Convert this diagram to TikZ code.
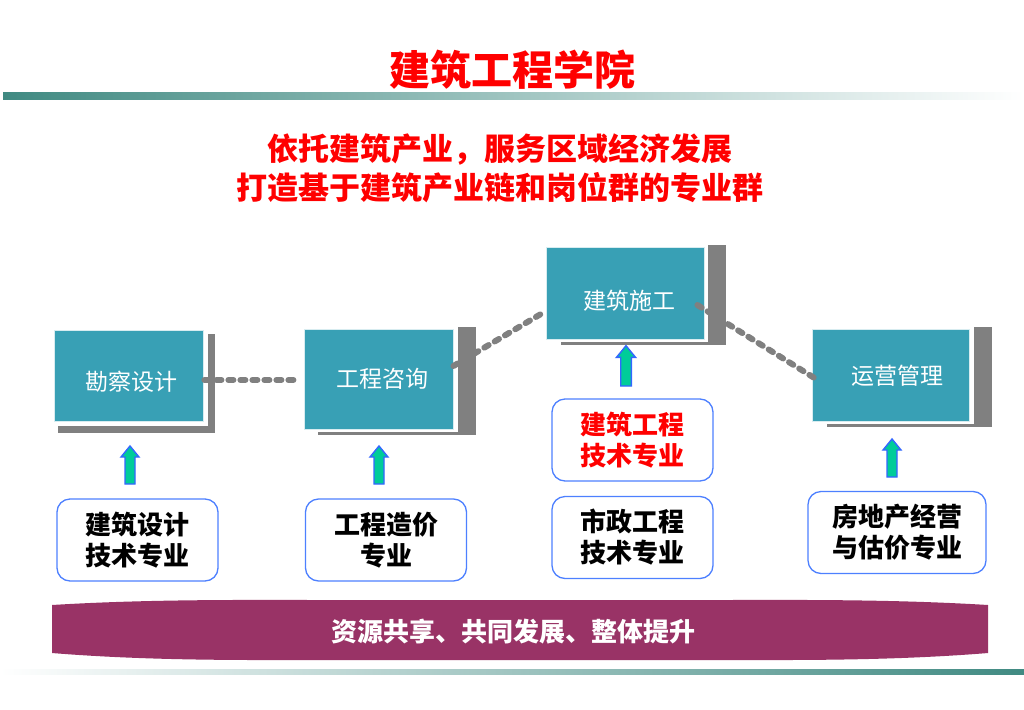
\documentclass[tikz,border=0pt]{standalone}
\usepackage{fontspec}
\setmainfont{Liberation Sans}
\newfontfamily\cjk{Noto Sans CJK SC}
\usetikzlibrary{calc}
\definecolor{boxteal}{RGB}{56,160,181}
\definecolor{shgray}{RGB}{128,128,128}
\definecolor{arrblue}{RGB}{51,102,255}
\definecolor{arrgreen}{RGB}{0,204,153}
\definecolor{rblue}{RGB}{77,128,255}
\definecolor{banner}{RGB}{153,51,102}
\definecolor{barteal}{RGB}{64,138,130}
\tikzset{
  tealbox/.style={fill=boxteal, draw=white!80!boxteal, line width=0.8, inner sep=0},
  tealtext/.style={text=white, inner sep=0, font=\cjk\fontsize{23}{25}\selectfont},
  shadowbar/.style={fill=shgray, draw=none},
  majorbox/.style={draw=rblue, line width=1.3, fill=white, rounded corners=13, inner sep=0,
    minimum width=161, minimum height=82, align=center, font=\cjk\bfseries\fontsize{26}{31}\selectfont},
  linkdash/.style={draw=shgray, line width=6, line cap=round, dash pattern=on 5 off 7},
  arrowbody/.style={draw=arrblue, line width=1.4, fill=arrgreen, line join=miter},
  uparr/.pic={\path[arrowbody] (-5,0) -- (-5,-27) -- (-9,-27) -- (0,-38) -- (9,-27) -- (5,-27) -- (5,0) -- cycle;}
}
\begin{document}
\begin{tikzpicture}[x=1pt,y=-1pt]
\useasboundingbox (0,0) rectangle (1024,709);
\fill[white] (0,0) rectangle (1024,709);

% gradient bars
\shade[left color=barteal, right color=white] (3,92) rectangle (1024,99);
\shade[left color=white, right color=barteal] (0,669) rectangle (1024,674);

% titles
\node[text=red, inner sep=0, font=\cjk\bfseries\fontsize{41}{45}\selectfont] (title) at (512,70) {建筑工程学院};
\node[text=red, inner sep=0, align=center, font=\cjk\bfseries\fontsize{31}{39}\selectfont] (sub) at (500,168)
  {依托建筑产业，服务区域经济发展\\打造基于建筑产业链和岗位群的专业群};

% shadows of the teal boxes
\fill[shadowbar] (208,334) rectangle (215,433);
\fill[shadowbar] (58,426) rectangle (215,433);
\fill[shadowbar] (458,327) rectangle (476,434);
\fill[shadowbar] (318,432) rectangle (476,434.5);
\fill[shadowbar] (708,245) rectangle (726,344);
\fill[shadowbar] (561,342) rectangle (726,344.5);
\fill[shadowbar] (974,327) rectangle (992,426);
\fill[shadowbar] (827,424) rectangle (992,426.5);

% teal boxes
\node[tealbox, minimum width=149, minimum height=91] (A) at (128.5,375.5) {};
\node[tealbox, minimum width=149, minimum height=100] (B) at (378.5,379) {};
\node[tealbox, minimum width=158, minimum height=92] (C) at (625,293) {};
\node[tealbox, minimum width=157, minimum height=92] (D) at (890.5,375) {};
\node[tealtext] (At) at ($(A.center)+(3,6.5)$) {勘察设计};
\node[tealtext] (Bt) at ($(B.center)+(3.5,0)$) {工程咨询};
\node[tealtext] (Ct) at ($(C.center)+(4,8)$) {建筑施工};
\node[tealtext] (Dt) at ($(D.center)+(6.5,1)$) {运营管理};

% dashed links
\draw[linkdash] ([shift={(1,4.5)}]A.east) -- ([shift={(-8,1)}]B.west);
\draw[linkdash] ([shift={(0,-13)}]B.east) -- ([shift={(-3,20)}]C.west);
\draw[linkdash] ([shift={(-7,12)}]C.east) -- ([shift={(6,5)}]D.west);

% majors
\node[majorbox] (P1) at (137.5,540) {建筑设计\\技术专业};
\node[majorbox] (P2) at (386,540) {工程造价\\专业};
\node[majorbox, text=red] (P3) at (632.5,440) {建筑工程\\技术专业};
\node[majorbox] (P4) at (632.5,537.5) {市政工程\\技术专业};
\node[majorbox, minimum width=178] (P5) at (897,532.5) {房地产经营\\与估价专业};

% block arrows
\coordinate (a1) at (130,484);
\coordinate (a2) at (379,484);
\coordinate (a3) at (626,386);
\coordinate (a4) at (892,477);
\pic at (a1) {uparr};
\pic at (a2) {uparr};
\pic[scale=1.06] at (a3) {uparr};
\pic at (a4) {uparr};

% banner
\fill[banner] (52,605) .. controls (150,599) and (250,600) .. (320,600) -- (720,600)
  .. controls (790,600) and (890,599) .. (988,605) -- (988,653)
  .. controls (890,661) and (790,660) .. (720,660) -- (320,660)
  .. controls (250,660) and (150,661) .. (52,653) -- cycle;
\node[text=white, inner sep=0, font=\cjk\bfseries\fontsize{26}{28}\selectfont] (bt) at (513,632) {资源共享、共同发展、整体提升};
\end{tikzpicture}
\end{document}
